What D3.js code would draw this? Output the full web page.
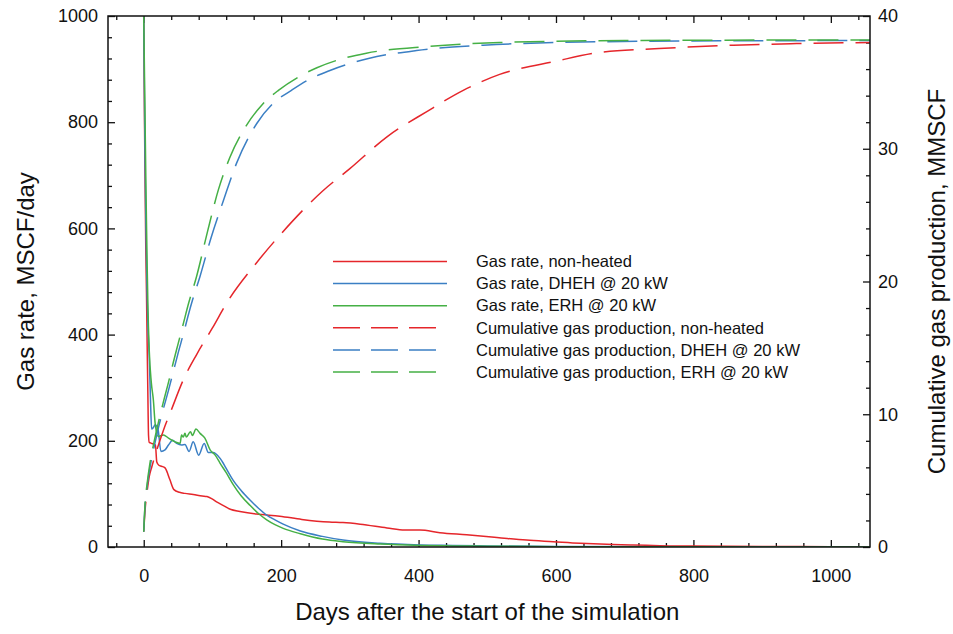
<!DOCTYPE html>
<html>
<head>
<meta charset="utf-8">
<script src="https://cdn.jsdelivr.net/npm/d3@7"></script>
<style>
  body { margin: 0; background: #fff; }
  text { font-family: "Liberation Sans", Arial, sans-serif; fill: #111; }
</style>
</head>
<body>
<script>
// gas rate, MSCF/day  [day, value]
var rateNonHeated = [[0,1000],[1,820],[2,680],[3,560],[4,480],[5,380],[6,290],[7,210],[8,197],[12,195],[17,192],[19,160],[22,154],[26,152],[31,149],[38,127],[44,108],[52,103],[60,101],[72,99],[85,96],[92,95],[100,90],[106,85],[116,78],[126,71],[140,67],[164,62],[198,58],[230,52],[270,47],[290,46],[315,43],[354,36],[380,32],[402,32],[431,27],[470,23],[514,18],[557,13],[596,10],[635,7],[674,5],[712,4],[751,2.5],[800,1.8],[900,1],[1000,0.6],[1057,0.5]];
var rateDHEH = [[0,1000],[1,850],[2,720],[3,620],[4,540],[5,470],[6,420],[8,360],[10,270],[11.5,222],[14,225],[16.6,230],[21,220],[25,180],[31,183],[36,192],[42,201],[48,195],[55,192],[60,193],[66,180],[72,198],[80,173],[88,195],[94,178],[101,178],[111,167],[120,148],[130,126],[142,106],[155,88],[167,73],[179,60],[191,51],[203,43],[228,30],[260,20],[290,13],[344,7],[402,4],[450,3],[500,2],[600,1],[800,0.4],[1057,0.2]];
var rateERH = [[0,1000],[1,900],[2,800],[3,700],[4,610],[5,530],[6,460],[8,371],[11,310],[14,277],[16.6,233],[21,208],[28.7,211],[36,205],[45.7,198],[53,195],[55,211],[57.5,207],[60,214],[62,207],[68,217],[71,210],[76,222],[82,214],[89,205],[96.6,183],[104,173],[111,158],[120,140],[130,118],[142,96],[155,78],[167,63],[179,51],[191,42],[203,35],[228,25],[260,15],[290,10],[344,5.5],[402,3],[450,2],[500,1.5],[600,0.7],[800,0.3],[1057,0.1]];

// cumulative gas production, MMSCF  [day, value]
var cumNonHeated = [[0,1.15],[2,2.8],[4.5,4.0],[8,5.3],[11.8,6.05],[16.6,6.9],[28.7,8.8],[40,10.3],[57.7,12.6],[77,14.5],[100,16.5],[121,18.4],[164,21.4],[200,23.6],[260,26.8],[300,28.5],[354,30.9],[412,32.8],[465,34.4],[518,35.6],[600,36.6],[664,37.26],[750,37.55],[858,37.8],[950,37.92],[1057,38.0]];
var cumDHEH = [[0,1.15],[2,3.2],[5,4.6],[9.3,6.05],[15,7.5],[21,8.9],[28,10.3],[36,11.8],[43,13.2],[50.5,14.7],[58,16.1],[65,17.5],[71,18.6],[82,20.4],[98,23.3],[116,26.1],[135,28.9],[164.5,31.9],[190,33.5],[215,34.4],[240,35.2],[271,35.9],[327,36.8],[397,37.4],[494,37.8],[600,38.0],[800,38.12],[1057,38.15]];
var cumERH = [[0,1.15],[2,3.3],[5,4.8],[9,6.3],[15,7.9],[21,9.3],[28,10.8],[36,12.4],[43,13.9],[50,15.3],[58,16.9],[65,18.3],[77,20.4],[93,23.8],[108.6,26.9],[125,29.3],[150,31.8],[172,33.3],[196,34.4],[225,35.4],[252,36.1],[290,36.8],[324,37.2],[412,37.7],[518,38.0],[700,38.15],[1057,38.2]];

var xTickLabels = [0, 200, 400, 600, 800, 1000];
var yLeftTickLabels = [0, 200, 400, 600, 800, 1000];
var yRightTickLabels = [0, 10, 20, 30, 40];

var legendNames = [
  "Gas rate, non-heated",
  "Gas rate, DHEH @ 20 kW",
  "Gas rate, ERH @ 20 kW",
  "Cumulative gas production, non-heated",
  "Cumulative gas production, DHEH @ 20 kW",
  "Cumulative gas production, ERH @ 20 kW"
];

var red = "#e5262b", blue = "#3b7fc4", green = "#45b045";

var width = 953, height = 634;
var margin = {left: 108, right: 83, top: 16, bottom: 87};
var bodyWidth = width - margin.left - margin.right;
var bodyHeight = height - margin.top - margin.bottom;

var svg = d3.select("body").append("svg")
    .attr("width", width).attr("height", height);
var g = svg.append("g")
    .attr("transform", "translate(" + [margin.left, margin.top] + ")");

var xScale = d3.scaleLinear().domain([-52, 1057]).range([0, bodyWidth]);
var yLeft = d3.scaleLinear().domain([0, 1000]).range([bodyHeight, 0]);
var yRight = d3.scaleLinear().domain([0, 40]).range([bodyHeight, 0]);

svg.append("defs").append("clipPath").attr("id", "clip")
  .append("rect").attr("width", bodyWidth).attr("height", bodyHeight);

function minorOf(start, stop, step, majors) {
  return d3.range(start, stop + step / 2, step).filter(v => majors.indexOf(v) < 0);
}

// axes (ticks point inward)
function addAxis(axis, transform, labels) {
  var a = g.append("g").attr("transform", transform).call(axis);
  a.select(".domain").remove();
  a.selectAll("line").attr("stroke", "#111").attr("stroke-width", 1.3);
  a.selectAll("text").style("font-size", "18px").attr("fill", "#111");
  if (!labels) a.selectAll("text").remove();
  return a;
}

var xMinor = minorOf(-40, 1040, 40, xTickLabels);
addAxis(d3.axisBottom(xScale).tickValues(xTickLabels).tickSize(-7).tickPadding(22).tickFormat(d3.format("d")), "translate(0," + bodyHeight + ")", true);
addAxis(d3.axisBottom(xScale).tickValues(xMinor).tickSize(-4), "translate(0," + bodyHeight + ")", false);
addAxis(d3.axisTop(xScale).tickValues(xTickLabels).tickSize(-7), "translate(0,0)", false);
addAxis(d3.axisTop(xScale).tickValues(xMinor).tickSize(-4), "translate(0,0)", false);

addAxis(d3.axisLeft(yLeft).tickValues(yLeftTickLabels).tickSize(-7).tickPadding(10).tickFormat(d3.format("d")), "translate(0,0)", true);
addAxis(d3.axisLeft(yLeft).tickValues(minorOf(0, 1000, 40, yLeftTickLabels)).tickSize(-4), "translate(0,0)", false);

addAxis(d3.axisRight(yRight).tickValues(yRightTickLabels).tickSize(-7).tickPadding(8).tickFormat(d3.format("d")), "translate(" + bodyWidth + ",0)", true);
addAxis(d3.axisRight(yRight).tickValues(minorOf(0, 40, 2, yRightTickLabels)).tickSize(-4), "translate(" + bodyWidth + ",0)", false);

// curves
var plot = g.append("g").attr("clip-path", "url(#clip)");
var rateLine = d3.line().x(d => xScale(d[0])).y(d => yLeft(d[1])).curve(d3.curveMonotoneX);
var cumLine = d3.line().x(d => xScale(d[0])).y(d => yRight(d[1])).curve(d3.curveMonotoneX);

var series = [
  {data: rateNonHeated, line: rateLine, color: red, dash: null},
  {data: rateDHEH, line: rateLine, color: blue, dash: null},
  {data: rateERH, line: rateLine, color: green, dash: null},
  {data: cumNonHeated, line: cumLine, color: red, dash: "30,12"},
  {data: cumDHEH, line: cumLine, color: blue, dash: "30,12"},
  {data: cumERH, line: cumLine, color: green, dash: "30,12"}
];

series.forEach(s => {
  plot.append("path")
    .attr("d", s.line(s.data))
    .attr("fill", "none")
    .attr("stroke", s.color)
    .attr("stroke-width", 1.5)
    .attr("stroke-dasharray", s.dash);
});

// frame
g.append("rect")
  .attr("width", bodyWidth).attr("height", bodyHeight)
  .attr("fill", "none").attr("stroke", "#111").attr("stroke-width", 1.5);

// legend
var legend = g.append("g").attr("transform", "translate(" + (333 - margin.left) + "," + (261.5 - margin.top) + ")");
series.forEach((s, i) => {
  var row = legend.append("g").attr("transform", "translate(0," + (i * 22.1) + ")");
  row.append("line")
    .attr("x1", 0).attr("x2", s.dash ? 104 : 114)
    .attr("stroke", s.color).attr("stroke-width", 1.5)
    .attr("stroke-dasharray", s.dash ? "27,11" : null);
  row.append("text")
    .attr("x", 143).attr("dy", "0.35em")
    .style("font-size", "16.5px")
    .text(legendNames[i]);
});

// axis titles
svg.append("text")
  .attr("x", margin.left + xScale(500)).attr("y", 620)
  .attr("text-anchor", "middle")
  .style("font-size", "24px")
  .text("Days after the start of the simulation");

svg.append("text")
  .attr("transform", "translate(34," + (margin.top + bodyHeight / 2) + ") rotate(-90)")
  .attr("text-anchor", "middle")
  .style("font-size", "24px")
  .text("Gas rate, MSCF/day");

svg.append("text")
  .attr("transform", "translate(945," + (margin.top + bodyHeight / 2) + ") rotate(-90)")
  .attr("text-anchor", "middle")
  .style("font-size", "24px")
  .text("Cumulative gas production, MMSCF");
</script>
</body>
</html>
